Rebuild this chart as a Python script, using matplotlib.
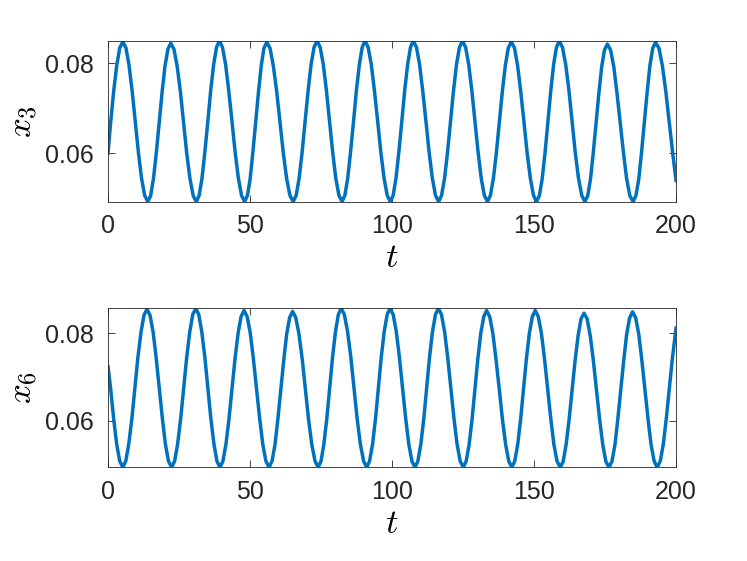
import matplotlib
matplotlib.use("Agg")
import matplotlib.pyplot as plt

# x3(t), points (one row per half swing)
t3 = [0.0, 0.95, 2.0, 3.08, 4.14, 5.2,
      6.3, 7.4, 8.5, 9.6, 10.7, 11.8, 12.9, 14.0,
      15.0, 16.0, 17.0, 18.05, 19.05, 20.05, 21.1, 22.1,
      23.2, 24.35, 25.5, 26.6, 27.7, 28.85, 30.0, 31.1,
      32.1, 33.1, 34.1, 35.15, 36.15, 37.2, 38.2, 39.2,
      40.3, 41.4, 42.5, 43.65, 44.75, 45.9, 47.0, 48.1,
      49.1, 50.05, 51.0, 52.0, 53.0, 53.95, 54.9, 55.9,
      57.05, 58.2, 59.4, 60.55, 61.7, 62.9, 64.05, 65.2,
      66.25, 67.3, 68.35, 69.4, 70.45, 71.5, 72.55, 73.6,
      74.7, 75.8, 76.9, 78.0, 79.1, 80.2, 81.3, 82.4,
      83.4, 84.4, 85.4, 86.45, 87.45, 88.5, 89.5, 90.5,
      91.6, 92.7, 93.8, 94.95, 96.05, 97.2, 98.3, 99.4,
      100.4, 101.4, 102.4, 103.45, 104.45, 105.5, 106.5, 107.5,
      108.6, 109.7, 110.8, 111.95, 113.05, 114.2, 115.3, 116.4,
      117.45, 118.5, 119.55, 120.6, 121.65, 122.7, 123.75, 124.8,
      125.9, 127.0, 128.1, 129.2, 130.3, 131.4, 132.5, 133.6,
      134.65, 135.7, 136.75, 137.8, 138.85, 139.9, 140.95, 142.0,
      143.1, 144.2, 145.3, 146.45, 147.55, 148.7, 149.8, 150.9,
      151.9, 152.9, 153.9, 154.9, 155.9, 156.9, 157.9, 158.9,
      160.0, 161.15, 162.3, 163.4, 164.5, 165.65, 166.8, 167.9,
      168.9, 169.9, 170.85, 171.85, 172.85, 173.8, 174.8, 175.8,
      176.95, 178.1, 179.2, 180.35, 181.5, 182.6, 183.75, 184.9,
      185.9, 186.9, 187.85, 188.85, 189.85, 190.8, 191.8, 192.8,
      194.0, 195.2, 196.4, 197.6, 198.8, 200.0]
x3 = [0.0601, 0.0670, 0.0738, 0.0795, 0.0834, 0.0847,
      0.0834, 0.0795, 0.0738, 0.0670, 0.0602, 0.0545, 0.0507, 0.0493,
      0.0506, 0.0544, 0.0601, 0.0669, 0.0736, 0.0793, 0.0831, 0.0844,
      0.0831, 0.0793, 0.0736, 0.0669, 0.0601, 0.0544, 0.0506, 0.0493,
      0.0507, 0.0545, 0.0603, 0.0671, 0.0739, 0.0797, 0.0835, 0.0849,
      0.0835, 0.0797, 0.0739, 0.0671, 0.0603, 0.0545, 0.0507, 0.0493,
      0.0507, 0.0544, 0.0602, 0.0670, 0.0737, 0.0794, 0.0833, 0.0846,
      0.0833, 0.0794, 0.0737, 0.0670, 0.0602, 0.0544, 0.0507, 0.0493,
      0.0507, 0.0545, 0.0603, 0.0671, 0.0739, 0.0797, 0.0835, 0.0849,
      0.0835, 0.0797, 0.0739, 0.0671, 0.0603, 0.0545, 0.0507, 0.0493,
      0.0507, 0.0545, 0.0603, 0.0671, 0.0739, 0.0797, 0.0835, 0.0849,
      0.0835, 0.0797, 0.0739, 0.0671, 0.0603, 0.0545, 0.0507, 0.0493,
      0.0507, 0.0545, 0.0603, 0.0671, 0.0739, 0.0797, 0.0835, 0.0849,
      0.0835, 0.0797, 0.0739, 0.0671, 0.0603, 0.0545, 0.0507, 0.0493,
      0.0507, 0.0545, 0.0603, 0.0671, 0.0739, 0.0797, 0.0835, 0.0849,
      0.0835, 0.0797, 0.0739, 0.0671, 0.0603, 0.0545, 0.0507, 0.0493,
      0.0507, 0.0545, 0.0602, 0.0670, 0.0738, 0.0795, 0.0834, 0.0847,
      0.0834, 0.0795, 0.0738, 0.0670, 0.0602, 0.0545, 0.0507, 0.0493,
      0.0507, 0.0545, 0.0603, 0.0671, 0.0739, 0.0797, 0.0835, 0.0849,
      0.0835, 0.0797, 0.0739, 0.0671, 0.0603, 0.0545, 0.0507, 0.0493,
      0.0506, 0.0544, 0.0601, 0.0668, 0.0734, 0.0791, 0.0829, 0.0842,
      0.0829, 0.0791, 0.0734, 0.0668, 0.0601, 0.0544, 0.0506, 0.0493,
      0.0507, 0.0544, 0.0602, 0.0670, 0.0737, 0.0794, 0.0833, 0.0846,
      0.0833, 0.0794, 0.0737, 0.0670, 0.0602, 0.0540]

# x6(t), points
t6 = [0.0, 0.9, 1.98, 3.05, 4.13, 5.2,
      6.25, 7.3, 8.4, 9.45, 10.5, 11.6, 12.65, 13.7,
      14.8, 15.9, 16.95, 18.05, 19.15, 20.2, 21.3, 22.4,
      23.45, 24.5, 25.6, 26.65, 27.7, 28.8, 29.85, 30.9,
      31.95, 33.0, 34.1, 35.15, 36.2, 37.3, 38.35, 39.4,
      40.45, 41.5, 42.6, 43.65, 44.7, 45.8, 46.85, 47.9,
      49.0, 50.1, 51.2, 52.3, 53.4, 54.5, 55.6, 56.7,
      57.75, 58.8, 59.8, 60.85, 61.9, 62.9, 63.95, 65.0,
      66.1, 67.25, 68.4, 69.5, 70.6, 71.75, 72.9, 74.0,
      75.0, 76.0, 77.05, 78.05, 79.05, 80.1, 81.1, 82.1,
      83.2, 84.35, 85.5, 86.6, 87.7, 88.85, 90.0, 91.1,
      92.1, 93.15, 94.2, 95.2, 96.2, 97.25, 98.3, 99.3,
      100.4, 101.5, 102.6, 103.7, 104.8, 105.9, 107.0, 108.1,
      109.1, 110.15, 111.2, 112.2, 113.2, 114.25, 115.3, 116.3,
      117.4, 118.5, 119.6, 120.7, 121.8, 122.9, 124.0, 125.1,
      126.1, 127.15, 128.2, 129.2, 130.2, 131.25, 132.3, 133.3,
      134.4, 135.5, 136.6, 137.75, 138.85, 140.0, 141.1, 142.2,
      143.2, 144.25, 145.3, 146.3, 147.3, 148.35, 149.4, 150.4,
      151.5, 152.6, 153.7, 154.8, 155.9, 157.0, 158.1, 159.2,
      160.25, 161.3, 162.35, 163.4, 164.45, 165.5, 166.55, 167.6,
      168.7, 169.8, 170.9, 172.0, 173.1, 174.2, 175.3, 176.4,
      177.45, 178.5, 179.5, 180.55, 181.6, 182.6, 183.65, 184.7,
      185.8, 186.9, 187.95, 189.05, 190.15, 191.2, 192.3, 193.4,
      194.45, 195.5, 196.55, 197.6, 198.65, 199.7, 200.0]
x6 = [0.0724, 0.0675, 0.0605, 0.0547, 0.0508, 0.0494,
      0.0508, 0.0547, 0.0605, 0.0675, 0.0744, 0.0802, 0.0841, 0.0855,
      0.0841, 0.0802, 0.0744, 0.0675, 0.0605, 0.0547, 0.0508, 0.0494,
      0.0508, 0.0547, 0.0606, 0.0676, 0.0745, 0.0804, 0.0843, 0.0857,
      0.0843, 0.0804, 0.0745, 0.0676, 0.0606, 0.0547, 0.0508, 0.0494,
      0.0508, 0.0546, 0.0605, 0.0673, 0.0741, 0.0800, 0.0838, 0.0852,
      0.0838, 0.0800, 0.0741, 0.0673, 0.0605, 0.0546, 0.0508, 0.0494,
      0.0508, 0.0546, 0.0604, 0.0672, 0.0740, 0.0798, 0.0836, 0.0850,
      0.0836, 0.0798, 0.0740, 0.0672, 0.0604, 0.0546, 0.0508, 0.0494,
      0.0508, 0.0547, 0.0606, 0.0676, 0.0745, 0.0804, 0.0843, 0.0857,
      0.0843, 0.0804, 0.0745, 0.0676, 0.0606, 0.0547, 0.0508, 0.0494,
      0.0508, 0.0547, 0.0606, 0.0676, 0.0745, 0.0804, 0.0843, 0.0857,
      0.0843, 0.0804, 0.0745, 0.0676, 0.0606, 0.0547, 0.0508, 0.0494,
      0.0508, 0.0547, 0.0606, 0.0676, 0.0745, 0.0804, 0.0843, 0.0857,
      0.0843, 0.0804, 0.0745, 0.0676, 0.0606, 0.0547, 0.0508, 0.0494,
      0.0508, 0.0546, 0.0605, 0.0673, 0.0741, 0.0800, 0.0838, 0.0852,
      0.0838, 0.0800, 0.0741, 0.0673, 0.0605, 0.0546, 0.0508, 0.0494,
      0.0508, 0.0546, 0.0605, 0.0673, 0.0741, 0.0800, 0.0838, 0.0852,
      0.0838, 0.0800, 0.0741, 0.0673, 0.0605, 0.0546, 0.0508, 0.0494,
      0.0507, 0.0546, 0.0603, 0.0670, 0.0737, 0.0794, 0.0833, 0.0846,
      0.0833, 0.0794, 0.0737, 0.0670, 0.0603, 0.0546, 0.0507, 0.0494,
      0.0508, 0.0546, 0.0604, 0.0672, 0.0739, 0.0797, 0.0835, 0.0849,
      0.0835, 0.0797, 0.0739, 0.0672, 0.0604, 0.0546, 0.0508, 0.0494,
      0.0508, 0.0546, 0.0604, 0.0672, 0.0739, 0.0797, 0.0812]

xticks = [0, 50, 100, 150, 200]
yticks = [0.06, 0.08]

plt.rcParams['font.family'] = ['Liberation Sans', 'DejaVu Sans']
plt.rcParams['mathtext.fontset'] = 'cm'

line_color = '#0072BD'
frame_color = '#262626'

fig = plt.figure(figsize=(7.47, 5.61), dpi=100)
ax1 = fig.add_axes([0.1446, 0.6405, 0.7604, 0.2865])
ax2 = fig.add_axes([0.1446, 0.1670, 0.7604, 0.2834])

for ax, t, x, name in [(ax1, t3, x3, r'$x_3$'), (ax2, t6, x6, r'$x_6$')]:
    ax.plot(t, x, color=line_color, linewidth=2.5, solid_joinstyle='round')
    ax.set_xlim(0, 200)
    ax.set_ylim(min(x), max(x))
    ax.set_xticks(xticks)
    ax.set_yticks(yticks)
    ax.set_yticklabels(['0.06', '0.08'])
    ax.tick_params(direction='in', length=5, width=0.6, colors=frame_color,
                   labelsize=18, top=True, right=True)
    ax.tick_params(axis='y', pad=10)
    ax.tick_params(axis='x', pad=9)
    for s in ax.spines.values():
        s.set_color(frame_color)
        s.set_linewidth(0.6)
    ax.set_xlabel(r'$t$', fontsize=25, labelpad=2)
    ax.set_ylabel(name, fontsize=25, labelpad=4)

fig.savefig('out.png', dpi=100)
